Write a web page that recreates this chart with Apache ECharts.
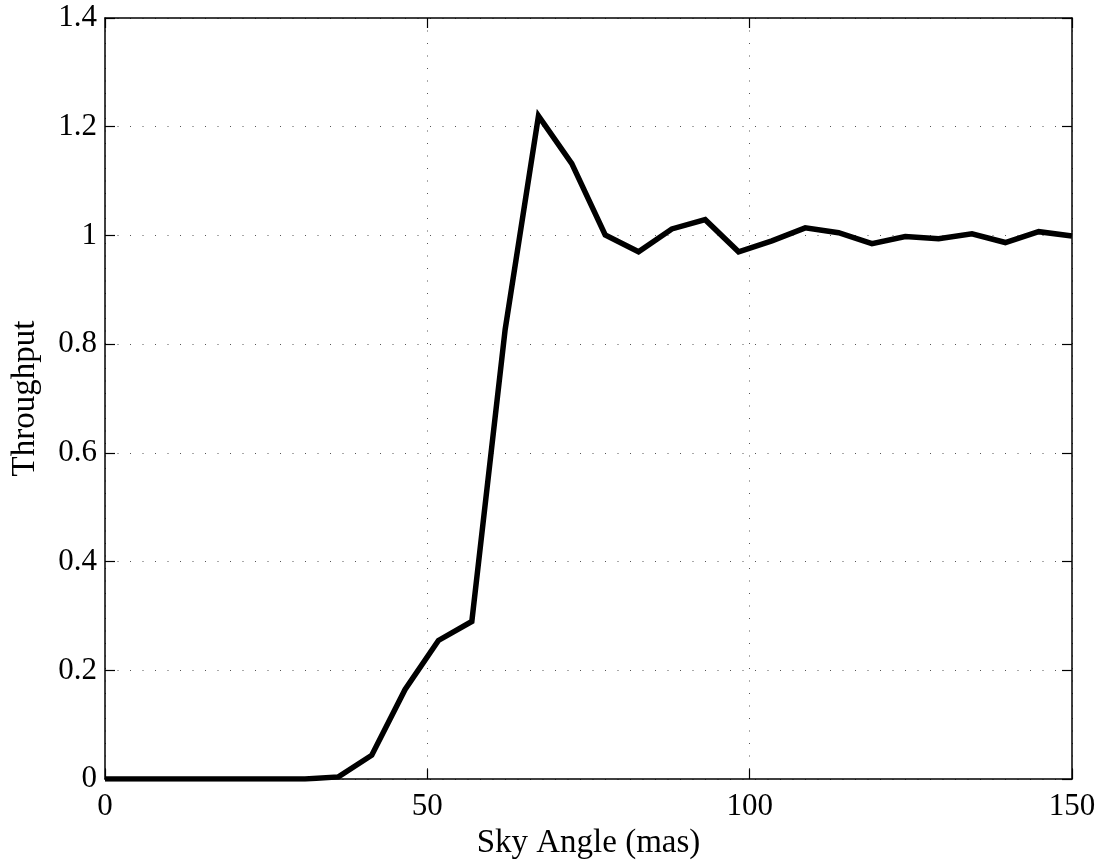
<!DOCTYPE html>
<html>
<head>
<meta charset="utf-8">
<script src="https://cdn.jsdelivr.net/npm/echarts@6/dist/echarts.min.js"></script>
<style>html,body{margin:0;padding:0;background:#fff}#c{width:1105px;height:865px}</style>
</head>
<body>
<div id="c"></div>
<script>
const skyAngle = [0, 5.17, 10.34, 15.52, 20.69, 25.86, 31.03, 36.21, 41.38, 46.55, 51.72, 56.90, 62.07, 67.24, 72.41, 77.59, 82.76, 87.93, 93.10, 98.28, 103.45, 108.62, 113.79, 118.97, 124.14, 129.31, 134.48, 139.66, 144.83, 150];
const throughput = [0, 0, 0, 0, 0, 0, 0, 0.004, 0.044, 0.165, 0.255, 0.290, 0.827, 1.22, 1.132, 1.001, 0.970, 1.012, 1.029, 0.970, 0.990, 1.014, 1.005, 0.985, 0.998, 0.994, 1.003, 0.987, 1.007, 0.999];
const xTicks = [0, 50, 100, 150];
const yTicks = [0, 0.2, 0.4, 0.6, 0.8, 1, 1.2, 1.4];

const font = 'Liberation Serif';
const chart = echarts.init(document.getElementById('c'), null, {renderer: 'canvas'});
const gridLine = {show: true, lineStyle: {color: '#555', width: 1, type: [1, 11.5]}};
const axisLine = {show: true, onZero: false, lineStyle: {color: '#000', width: 1.5}};
const tick = {show: true, inside: true, length: 10, lineStyle: {color: '#000', width: 1.2}};
const data = skyAngle.map((x, i) => [x, throughput[i]]);
chart.setOption({
  animation: false,
  backgroundColor: '#fff',
  grid: {left: 105, top: 18, right: 33, bottom: 76, containLabel: false},
  xAxis: [{
    type: 'value', min: 0, max: 150, interval: 50, position: 'bottom',
    name: 'Sky Angle (mas)', nameLocation: 'middle', nameGap: 40,
    nameTextStyle: {fontFamily: font, fontSize: 33, color: '#000'},
    axisLine: axisLine, axisTick: tick,
    axisLabel: {fontFamily: font, fontSize: 31, color: '#000', margin: 12,
      formatter: v => xTicks.includes(v) ? String(v) : ''},
    splitLine: gridLine
  }, {
    type: 'value', min: 0, max: 150, interval: 50, position: 'top',
    axisLine: axisLine, axisTick: tick, axisLabel: {show: false}, splitLine: {show: false}
  }],
  yAxis: [{
    type: 'value', min: 0, max: 1.4, interval: 0.2, position: 'left',
    name: 'Throughput', nameLocation: 'middle', nameGap: 63, nameRotate: 90,
    nameTextStyle: {fontFamily: font, fontSize: 33, color: '#000'},
    axisLine: axisLine, axisTick: tick,
    axisLabel: {fontFamily: font, fontSize: 31, color: '#000', margin: 8,
      formatter: v => { const t = yTicks.find(a => Math.abs(a - v) < 1e-6); return t === undefined ? '' : String(t); }},
    splitLine: gridLine
  }, {
    type: 'value', min: 0, max: 1.4, interval: 0.2, position: 'right',
    axisLine: axisLine, axisTick: tick, axisLabel: {show: false}, splitLine: {show: false}
  }],
  series: [{
    type: 'line', data: data, xAxisIndex: 0, yAxisIndex: 0,
    showSymbol: false, symbol: 'none', clip: true,
    lineStyle: {color: '#000', width: 5.5, join: 'miter'}
  }]
});
</script>
</body>
</html>
